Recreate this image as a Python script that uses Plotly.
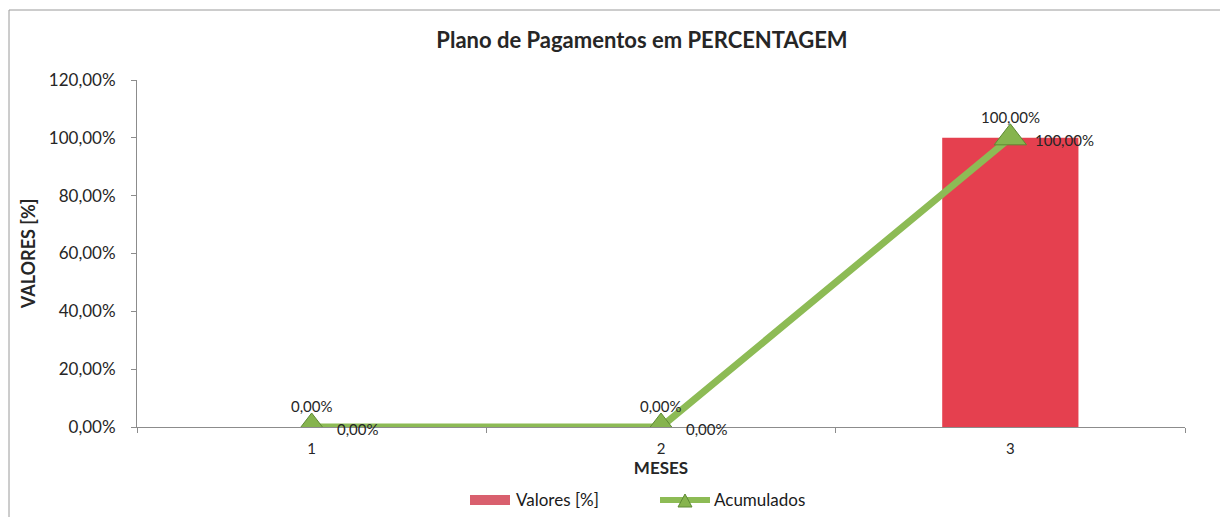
import plotly.graph_objects as go

meses = ["1", "2", "3"]
valores = [0.0, 0.0, 100.0]
acumulados = [0.0, 0.0, 100.0]
y_ticks = [0, 20, 40, 60, 80, 100, 120]
series_names = ["Valores [%]", "Acumulados"]

FONT = "Lato"
TXT = "#262626"
RED = "#E5404F"
GREEN = "#8DBB55"

W, H = 1220, 509
L, R, T, B = 129, 43, 72, 90
PW, PH = W - L - R, H - T - B

def px(fx):
    return (fx - L) / PW

def py(fy):
    return (H - B - fy) / PH

def fmt(v):
    return f"{v:.2f}".replace(".", ",") + "%"

fig = go.Figure()

fig.add_trace(go.Bar(
    x=meses, y=valores, name=series_names[0],
    width=0.39, showlegend=False,
    marker=dict(color=RED, line=dict(color="#B02634", width=0)),
))

fig.add_trace(go.Scatter(
    x=meses, y=acumulados, name=series_names[1], showlegend=False,
    mode="lines+markers",
    line=dict(color=GREEN, width=7),
    marker=dict(symbol="triangle-up", size=28, color="#86B44E",
                line=dict(color="#5E8A34", width=1)),
))

for i, v in enumerate(acumulados):
    fig.add_annotation(
        x=i, y=v, text=fmt(v), showarrow=False,
        xanchor="center", yanchor="middle", yshift=21,
        font=dict(family=FONT, size=15, color=TXT),
    )

for i, v in enumerate(valores):
    fig.add_annotation(
        x=i, y=v, text=fmt(v), showarrow=False,
        xanchor="left", yanchor="middle", xshift=23, yshift=-2,
        font=dict(family=FONT, size=15, color=TXT),
    )

# chart frame
fig.add_shape(type="rect", xref="paper", yref="paper",
              x0=px(1), x1=px(W + 20), y0=py(H + 20), y1=py(2),
              line=dict(color="#9a9a9a", width=1))

# custom legend
leg_y = 492
fig.add_shape(type="rect", xref="paper", yref="paper",
              x0=px(462), x1=px(502), y0=py(leg_y + 5), y1=py(leg_y - 5),
              line=dict(width=0), fillcolor="#D9606E")
fig.add_annotation(xref="paper", yref="paper", x=px(506), y=py(leg_y),
                   text=series_names[0], showarrow=False,
                   xanchor="left", yanchor="middle",
                   font=dict(family=FONT, size=17, color="#1a1a1a"))
fig.add_shape(type="line", xref="paper", yref="paper",
              x0=px(652), x1=px(702), y0=py(leg_y), y1=py(leg_y),
              line=dict(color=GREEN, width=6))
fig.add_shape(type="path", xref="paper", yref="paper",
              path=f"M {px(670)},{py(leg_y + 7)} L {px(684)},{py(leg_y + 7)} L {px(677)},{py(leg_y - 6)} Z",
              fillcolor="#86B44E", line=dict(color="#5E8A34", width=1))
fig.add_annotation(xref="paper", yref="paper", x=px(704), y=py(leg_y),
                   text=series_names[1], showarrow=False,
                   xanchor="left", yanchor="middle",
                   font=dict(family=FONT, size=17, color="#1a1a1a"))

fig.update_layout(
    width=W, height=H,
    margin=dict(l=L, r=R, t=T, b=B, autoexpand=False),
    paper_bgcolor="white", plot_bgcolor="white",
    separators=",.",
    font=dict(family=FONT, size=14, color=TXT),
    title=dict(text="<b>Plano de Pagamentos em PERCENTAGEM</b>",
               x=634 / W, xanchor="center", xref="container",
               y=1 - 32 / H, yanchor="middle",
               font=dict(family=FONT, size=22, color=TXT)),
    showlegend=False,
    bargap=0.6,
)

fig.update_xaxes(
    type="category", range=[-0.5, 2.5], automargin=False,
    showline=True, linecolor="#8c8c8c", linewidth=1,
    ticks="outside", ticklen=5, tickcolor="#8c8c8c",
    tickson="boundaries", ticklabelstandoff=8,
    showgrid=False, zeroline=False,
    tickfont=dict(family=FONT, size=15, color=TXT),
    title=dict(text="<b>MESES</b>", standoff=2,
               font=dict(family=FONT, size=17, color=TXT)),
)

fig.update_yaxes(
    range=[0, 120], tickvals=y_ticks, automargin=False,
    ticktext=[fmt(v) for v in y_ticks],
    showline=True, linecolor="#8c8c8c", linewidth=1,
    ticks="outside", ticklen=5, tickcolor="#8c8c8c",
    ticklabelstandoff=12,
    showgrid=False, zeroline=False,
    tickfont=dict(family=FONT, size=17, color=TXT),
    title=dict(text="<b>VALORES [%]</b>", standoff=8,
               font=dict(family=FONT, size=18, color=TXT)),
)

fig.write_html("out.html")
